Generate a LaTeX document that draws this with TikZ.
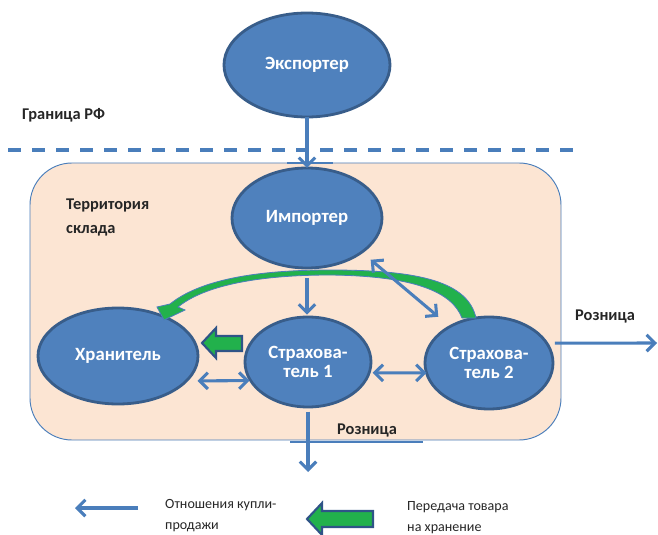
\documentclass[tikz,border=0pt]{standalone}
\usepackage{fontspec}
\setmainfont{Carlito}
\usetikzlibrary{shapes.geometric, arrows.meta, positioning}

\definecolor{nodeblue}{RGB}{79,129,189}
\definecolor{nodeedge}{RGB}{56,93,138}
\definecolor{arrowblue}{RGB}{74,126,187}
\definecolor{storegreen}{RGB}{34,177,76}
\definecolor{storeedge}{RGB}{47,84,135}
\definecolor{peach}{RGB}{252,229,211}
\definecolor{textgray}{RGB}{38,38,38}

\tikzset{
	barb/.tip={Straight Barb[length=7pt,width=14pt]},
	actor/.style={ellipse, draw=nodeedge, line width=2.4pt, fill=nodeblue, text=white,
		font=\fontsize{16}{15.5}\selectfont\bfseries, align=center, inner sep=0pt, outer sep=0pt},
	rel/.style={draw=arrowblue, line width=2.6pt, -barb},
	dblrel/.style={draw=arrowblue, line width=2.6pt, barb-barb},
	lbl/.style={text=textgray, font=\fontsize{14}{20}\selectfont\bfseries, align=left, inner sep=0pt},
	legend/.style={text=textgray, font=\fontsize{12}{18}\selectfont, align=left, inner sep=0pt},
	store/.style={fill=storegreen, draw=storeedge, line width=1.8pt, line join=miter},
	arc/.style={fill=storegreen, draw=arrowblue, line width=0.7pt},
	warehouse/.style={fill=peach, draw=arrowblue, line width=0.8pt, rounded corners=1.26cm},
	borderline/.style={draw=arrowblue, line width=3.4pt, dash pattern=on 11pt off 9.5pt},
	tick/.style={draw=arrowblue, line width=2pt},
}

\begin{document}
\begin{tikzpicture}[x=0.03cm, y=-0.03cm]
	\useasboundingbox (0,0) rectangle (658,535);
	
	% state border
	\node[lbl, anchor=west] (rf) at (22,115) {Граница РФ};
	\draw[borderline] (8,150) -- (575,150);
	
	% warehouse territory
	\draw[warehouse] (30,163) rectangle (561,440);
	\draw[tick] (287,163) -- (333,163);
	\draw[tick] (290,442) -- (423,442);
	\node[lbl, anchor=north west] (terr) at (66,199) {Территория\\склада};
	
	% participants
	\node[actor, minimum width=4.98cm, minimum height=3.12cm] (exp) at (307,65) {Экспортер};
	\node[actor, minimum width=4.5cm, minimum height=3cm] (imp) at (307,218) {Импортер};
	\node[actor, minimum width=4.8cm, minimum height=2.88cm] (hr) at (118,356) {Хранитель};
	\node[actor, minimum width=3.78cm, minimum height=2.7cm] (s1) at (308,362) {Страхова-\\тель 1};
	\node[actor, minimum width=3.84cm, minimum height=2.76cm] (s2) at (489,363) {Страхова-\\тель 2};
	
	% storage transfer
	\draw[arc] (157,307) -- (164,320) -- (185,310) -- (178,307)
		.. controls (205,285) and (260,275) .. (330,275)
		.. controls (415,276) and (452,292) .. (462,318) -- (476,318)
		.. controls (468,282) and (420,270) .. (330,270)
		.. controls (255,270) and (200,280) .. (170,304) -- cycle;
	\coordinate (gtip) at (202,343);
	\draw[store] (gtip) -- ++(14,-15) -- ++(0,8) -- ++(26,0) -- ++(0,15) -- ++(-26,0) -- ++(0,7) -- cycle;
	
	% purchase relations
	\draw[rel] (exp.south) -- (imp.north);
	\draw[rel, shorten <=8.5pt, shorten >=2pt] (imp.south) -- (imp.south |- s1.north);
	\draw[dblrel, shorten <=10pt, shorten >=13pt] (imp.-32) -- (s2.137);
	\draw[dblrel, shorten <=9.5pt, shorten >=1pt] (hr.-20) -- (s1.198);
	\draw[dblrel, shorten <=3pt] (s1.-10) -- (s2.189);
	
	% retail
	\coordinate (out1) at (308,472);
	\coordinate (out2) at (657,343);
	\draw[rel, shorten <=4pt] (s1.south) -- (out1);
	\draw[rel, shorten <=7pt] (s2.19) -- (out2);
	\node[lbl] (ret1) at (367,431) {Розница};
	\node[lbl] (ret2) at (605,317) {Розница};
	
	% legend
	\coordinate (legA) at (138,508);
	\coordinate (legB) at (75,508);
	\draw[rel] (legA) -- (legB);
	\node[legend, anchor=west] (leg1) at (165,516) {Отношения купли-\\продажи};
	\coordinate (ltip) at (307,519);
	\draw[store] (ltip) -- ++(15,-16) -- ++(0,8) -- ++(51,0) -- ++(0,16) -- ++(-51,0) -- ++(0,8) -- cycle;
	\node[legend, anchor=west] (leg2) at (407,518) {Передача товара\\на хранение};
\end{tikzpicture}
\end{document}
